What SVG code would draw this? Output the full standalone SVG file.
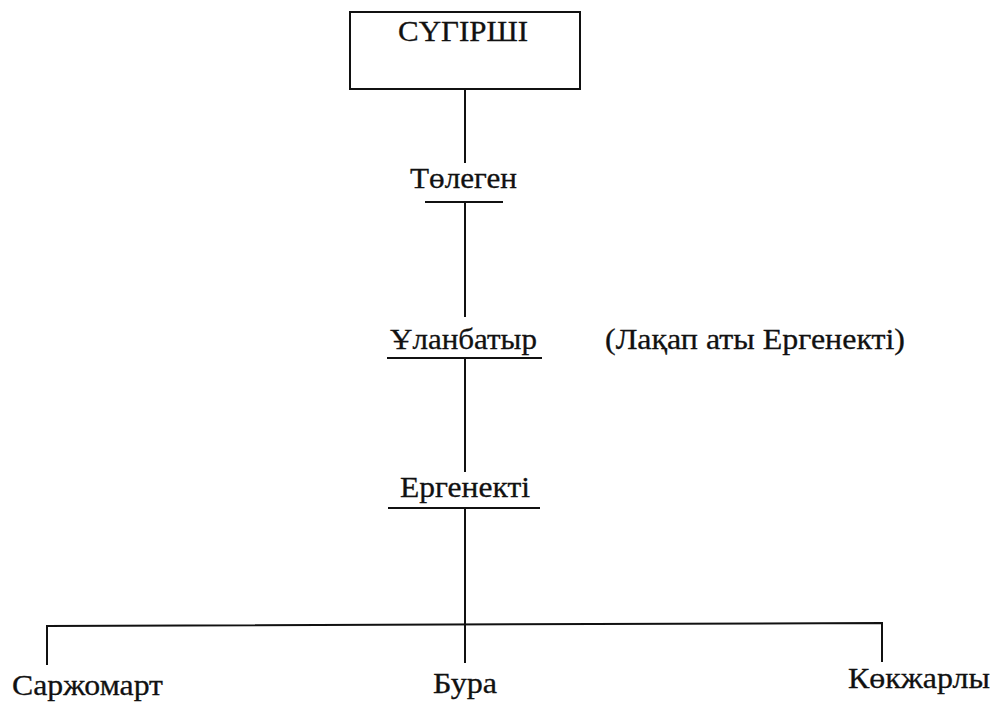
<svg xmlns="http://www.w3.org/2000/svg" width="998" height="706" viewBox="0 0 998 706">
<style>
  .t { font-family: "Liberation Serif", "Times New Roman", serif; font-size: 30px; fill: #111; stroke: #111; stroke-width: 0.3; }
  .ln { stroke: #111; stroke-width: 2; fill: none; }
  .box { stroke: #111; stroke-width: 2; fill: #fff; }
</style>
<rect width="998" height="706" fill="#fff"/>
<g id="connectors">
  <line class="ln" x1="465" y1="89" x2="465" y2="163"/>
  <line class="ln" x1="465" y1="202" x2="465" y2="317"/>
  <line class="ln" x1="465" y1="358" x2="465" y2="472"/>
  <line class="ln" x1="465" y1="508" x2="465" y2="663"/>
  <polyline class="ln" points="47,665 47,626 882,623 882,662"/>
</g>
<g id="node-sugirshi">
  <rect class="box" x="350" y="12" width="230" height="77"/>
  <text class="t" x="398" y="41" textLength="130" lengthAdjust="spacingAndGlyphs">СҮГІРШІ</text>
</g>
<g id="node-tolegen">
  <text class="t" x="410" y="188" textLength="107" lengthAdjust="spacingAndGlyphs">Төлеген</text>
  <line class="ln" x1="425" y1="202" x2="503" y2="202"/>
</g>
<g id="node-ulanbatyr">
  <text class="t" x="390" y="349" textLength="147" lengthAdjust="spacingAndGlyphs">Ұланбатыр</text>
  <line class="ln" x1="387" y1="358" x2="542" y2="358"/>
</g>
<g id="note-lakap">
  <text class="t" x="605" y="349" textLength="300" lengthAdjust="spacingAndGlyphs">(Лақап аты Ергенекті)</text>
</g>
<g id="node-ergenekti">
  <text class="t" x="400" y="497" textLength="130" lengthAdjust="spacingAndGlyphs">Ергенекті</text>
  <line class="ln" x1="388" y1="508" x2="540" y2="508"/>
</g>
<g id="node-sarzhomart">
  <text class="t" x="12" y="695" textLength="151" lengthAdjust="spacingAndGlyphs">Саржомарт</text>
</g>
<g id="node-bura">
  <text class="t" x="433" y="693" textLength="64" lengthAdjust="spacingAndGlyphs">Бура</text>
</g>
<g id="node-kokzharly">
  <text class="t" x="848" y="688" textLength="142" lengthAdjust="spacingAndGlyphs">Көкжарлы</text>
</g>
</svg>
